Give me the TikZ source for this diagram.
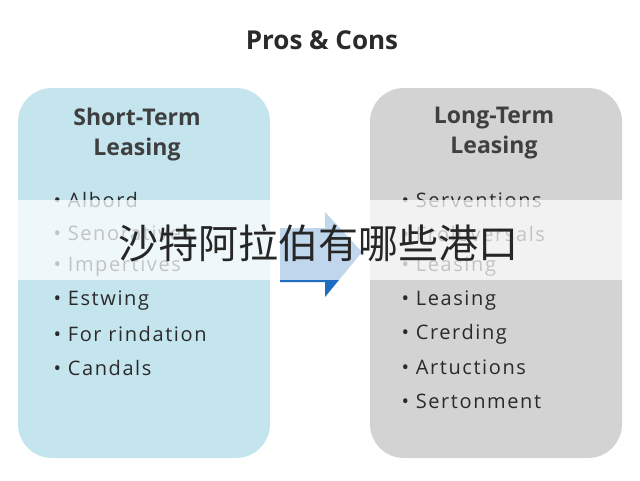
\documentclass[tikz,border=0pt]{standalone}
\usepackage{fontspec}
\setmainfont{Open Sans}
\newfontfamily\spaced{Open Sans}[LetterSpace=8]
\newfontfamily\cjk{Noto Sans CJK SC}
\definecolor{lblue}{HTML}{C4E5EE}
\definecolor{lgray}{HTML}{D3D3D3}
\definecolor{txt}{HTML}{2A2A2A}
\definecolor{arrd}{HTML}{1F6DC0}
\begin{document}
\begin{tikzpicture}[x=1pt,y=-1pt,
  box/.style={rounded corners=34pt},
  head/.style={font=\fontsize{23}{30}\selectfont\bfseries, text=txt!90, align=center},
  item/.style={font=\spaced\fontsize{20}{22}\selectfont, text=txt, anchor=west}]
\useasboundingbox (0,0) rectangle (640,480);
\fill[white] (0,0) rectangle (640,480);
\node[font=\fontsize{26}{30}\selectfont\bfseries, text=txt] (title) at (322,40) {Pros \& Cons};
\fill[lblue, box] (18,88) rectangle (270,458);
\fill[lgray, box] (370,88) rectangle (622,458);
\node[head] (lh) at (137,135) {Short-Term\\Leasing};
\node[head] (rh) at (494,133) {Long-Term\\Leasing};
\foreach \t [count=\i] in {Albord,Senoratives,Impertives,Estwing,For rindation,Candals}
  \node[item] (l\i) at (50,{200+33.5*(\i-1)}) {• \t};
\foreach \t [count=\i] in {Serventions,Froloversals,Leasing,Leasing,Crerding,Artuctions,Sertonment}
  \node[item] (r\i) at (398,{200+33.5*(\i-1)}) {• \t};
\fill[arrd] (280,228) -- (325,228) -- (325,212) -- (362,252) -- (325,297) -- (325,282) -- (280,282) -- cycle;
\fill[white, opacity=0.72] (0,200) rectangle (640,280);
\node[font=\cjk\fontsize{40}{44}\selectfont, text=black!85] (banner) at (318,243) {沙特阿拉伯有哪些港口};
\end{tikzpicture}
\end{document}
